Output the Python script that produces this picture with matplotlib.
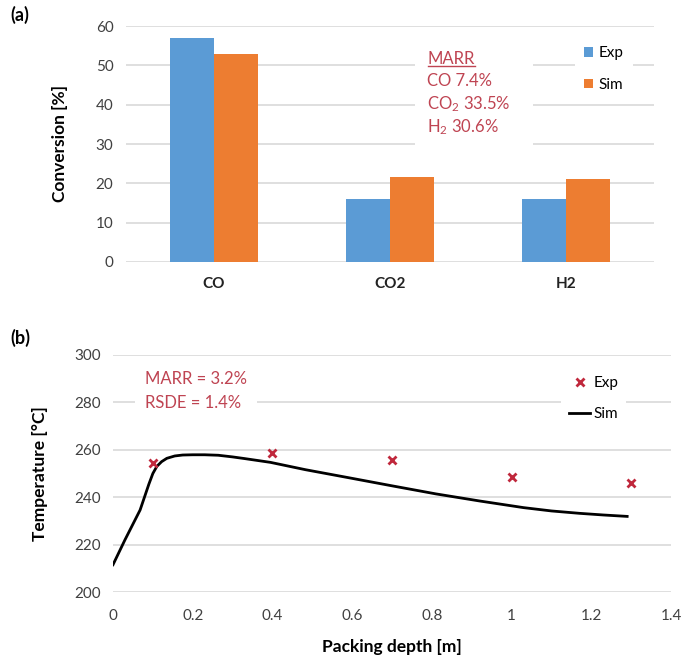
import numpy as np
import matplotlib.pyplot as plt
from matplotlib.lines import Line2D
from matplotlib.patches import Rectangle

plt.rcParams['font.family'] = ['Lato', 'DejaVu Sans']
plt.rcParams['mathtext.default'] = 'regular'

# panel (a) data
species = ["CO", "CO2", "H2"]
conv_exp = [57.0, 16.0, 16.0]
conv_sim = [53.0, 21.7, 21.0]
marr_lines = ['MARR', 'CO 7.4%', 'CO$_2$ 33.5%', 'H$_2$ 30.6%']

# panel (b) data
depth_exp = [0.1, 0.4, 0.7, 1.0, 1.3]
temp_exp = [254.5, 258.5, 255.5, 248.5, 246.0]
depth_sim = [0.0, 0.03, 0.068, 0.09, 0.10, 0.11, 0.122, 0.135, 0.155, 0.175,
             0.20, 0.23, 0.264, 0.30, 0.33, 0.395, 0.483, 0.592, 0.70, 0.81,
             0.92, 1.03, 1.10, 1.17, 1.23, 1.29]
temp_sim = [211.5, 222.0, 234.6, 245.5, 250.0, 253.0, 255.0, 256.4, 257.4, 257.8,
            257.9, 257.9, 257.7, 257.0, 256.3, 254.7, 251.6, 248.2, 244.8, 241.4,
            238.4, 235.6, 234.2, 233.2, 232.5, 231.9]

blue = '#5b9bd5'
orange = '#ed7d31'
red = '#bf4452'
grid = '#d9d9d9'
tick_col = '#404040'

fig = plt.figure(figsize=(6.83, 6.62), dpi=100)

# ---------- (a) ----------
ax1 = fig.add_axes([126 / 683, 1 - 262 / 662, 528 / 683, 236 / 662])
x = np.arange(len(species))
w = 0.25
ax1.bar(x - w / 2, conv_exp, w, color=blue, label='Exp', zorder=3)
ax1.bar(x + w / 2, conv_sim, w, color=orange, label='Sim', zorder=3)
ax1.set_xlim(-0.5, 2.5)
ax1.set_ylim(0, 60)
ax1.set_yticks(range(0, 61, 10))
ax1.set_xticks(x)
ax1.set_xticklabels(species, fontweight='bold')
ax1.yaxis.grid(True, color=grid, lw=1.2, zorder=0)
for s in ax1.spines.values():
    s.set_visible(False)
ax1.tick_params(axis='y', length=0, pad=9, labelsize=11, labelcolor=tick_col)
ax1.tick_params(axis='x', length=0, pad=11, labelsize=11, labelcolor='#222222')
ax1.set_ylabel('Conversion [%]', fontsize=12.5, fontweight='bold')
ax1.yaxis.set_label_coords(-0.11, 0.5)
leg = ax1.legend(loc='upper left', bbox_to_anchor=(0.835, 0.985), frameon=True,
                 fontsize=11, handlelength=0.6, handleheight=0.6,
                 handletextpad=0.4, labelspacing=1.15, borderpad=0.6)
leg.get_frame().set_edgecolor('none')
leg.get_frame().set_facecolor('white')
leg.get_frame().set_alpha(1)
# white box behind the MARR note
ax1.add_patch(Rectangle((0.547, 0.475), 0.224, 0.465, transform=ax1.transAxes,
                        fc='white', ec='none', zorder=2))
for i, line in enumerate(marr_lines):
    ax1.text(0.571, 0.841 - i * 0.097, line, transform=ax1.transAxes,
             ha='left', va='baseline', fontsize=12, color=red, zorder=4)
fig.add_artist(Line2D([428 / 683, 475 / 683], [1 - 66 / 662, 1 - 66 / 662],
                      color=red, lw=1.0))
fig.text(10 / 683, 1 - 15 / 662, '(a)', fontsize=13, fontweight='bold',
         va='center', ha='left')

# ---------- (b) ----------
ax2 = fig.add_axes([113 / 683, 1 - 592 / 662, 558 / 683, 237 / 662])
ax2.plot(depth_sim, temp_sim, color='black', lw=2, label='Sim', zorder=3)
ax2.plot(depth_exp, temp_exp, ls='none', marker='x', ms=6, mew=2,
         color='#c0283c', label='Exp', zorder=4)
ax2.set_xlim(0, 1.4)
ax2.set_ylim(200, 300)
ax2.set_yticks(range(200, 301, 20))
ax2.set_xticks(np.arange(0, 1.41, 0.2))
ax2.set_xticklabels(['0', '0.2', '0.4', '0.6', '0.8', '1', '1.2', '1.4'])
ax2.yaxis.grid(True, color=grid, lw=1.2, zorder=0)
for s in ax2.spines.values():
    s.set_visible(False)
ax2.tick_params(axis='y', length=0, pad=9, labelsize=11, labelcolor=tick_col)
ax2.tick_params(axis='x', length=0, pad=12, labelsize=11, labelcolor=tick_col)
ax2.set_ylabel('Temperature [°C]', fontsize=12.5, fontweight='bold')
ax2.yaxis.set_label_coords(-0.117, 0.5)
ax2.set_xlabel('Packing depth [m]', fontsize=12.5, fontweight='bold', labelpad=12)
h, l = ax2.get_legend_handles_labels()
leg2 = ax2.legend([h[1], h[0]], [l[1], l[0]], loc='upper left',
                  bbox_to_anchor=(0.79, 0.975), frameon=True, fontsize=11,
                  handlelength=1.4, handletextpad=0.2, labelspacing=1.1,
                  borderpad=0.5)
leg2.get_frame().set_edgecolor('none')
leg2.get_frame().set_facecolor('white')
leg2.get_frame().set_alpha(1)
ax2.text(0.057, 0.934, 'MARR = 3.2%\nRSDE = 1.4%', transform=ax2.transAxes,
         ha='left', va='top', fontsize=12, color=red, linespacing=1.65,
         zorder=4, bbox=dict(boxstyle='square,pad=0.6', fc='white', ec='none'))
fig.text(10 / 683, 1 - 338 / 662, '(b)', fontsize=13, fontweight='bold',
         va='center', ha='left')

fig.savefig('out.png', dpi=100)
